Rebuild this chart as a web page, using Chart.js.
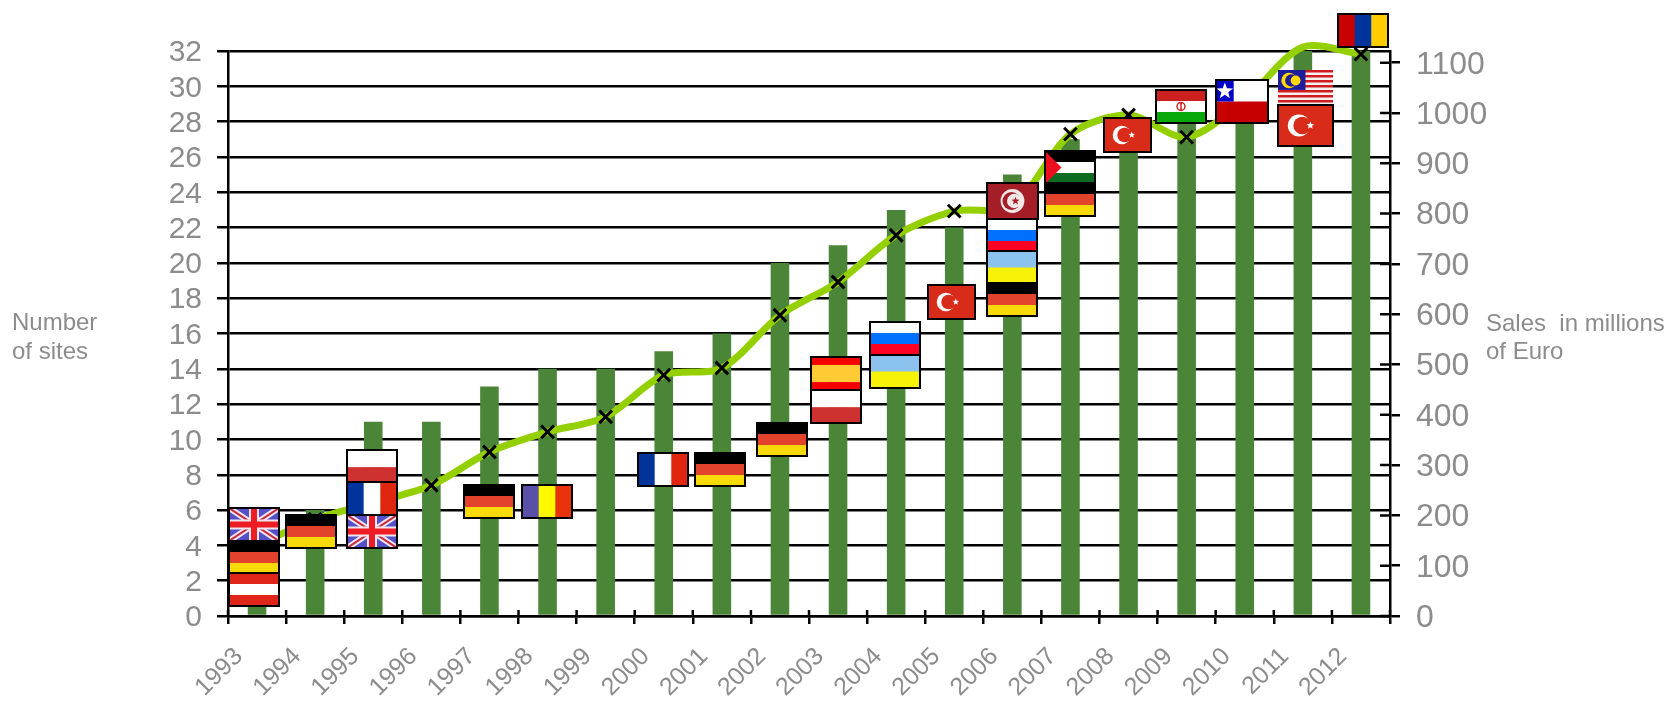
<!DOCTYPE html>
<html>
<head>
<meta charset="utf-8">
<title>Sites and sales</title>
<script src="https://cdn.jsdelivr.net/npm/chart.js@4"></script>
<style>
  html, body { margin: 0; padding: 0; background: #fff; }
  #wrap { width: 1668px; height: 701px; position: relative; }
</style>
</head>
<body>
<div id="wrap"><canvas id="sitesChart"></canvas></div>
<script>
// --- data ---
const years = ['1993','1994','1995','1996','1997','1998','1999','2000','2001','2002','2003','2004','2005','2006','2007','2008','2009','2010','2011','2012'];
const sites = [4,6,11,11,13,14,14,15,16,20,21,23,22,25,27,28,28,30,32,32];
const sales = [141,192,225,260,326,366,396,479,493,598,664,757,805,815,958,996,952,1026,1131,1117];

// flags: code, category position (year index), height on the "Number of sites" axis
const flagCodes = ['UK','DE','AT','DE','PL','FR','UK','DE','RO','FR','DE','DE','ES','PL','RU','UA','TR','TN','RU','UA','DE','PS','DE','TR','IR','CL','MY','TRbig','AM'];
const flagYears = [-0.05,-0.06,-0.06,0.93,1.97,1.97,1.97,4.0,4.99,6.99,7.96,9.03,9.96,9.96,10.98,10.98,11.96,13,13,13,13,14,14,14.98,15.91,16.95,18.04,18.05,19.03];
const flagSites = [5.18,3.34,1.5,4.76,8.49,6.65,4.78,6.48,6.46,8.3,8.3,10.02,13.76,11.86,15.71,13.84,17.78,23.5,21.55,19.73,17.92,25.42,23.58,27.27,28.85,29.13,29.93,27.77,33.18];

const GREY = '#8c8c8c';
const FONT = "'Liberation Sans', Arial, sans-serif";

// --- flag drawing ---
const FLAG_SIZE = { TR: [47, 34], TRbig: [55, 41], TN: [51, 36], CL: [52, 43], MY: [55, 35] };

function hStripes(c, w, h, colors, shares) {
    let y = 0;
    colors.forEach((col, i) => {
        const sh = (shares ? shares[i] : 1 / colors.length) * h;
        c.fillStyle = col;
        c.fillRect(0, y, w, sh + 0.5);
        y += sh;
    });
}

function vStripes(c, w, h, colors) {
    colors.forEach((col, i) => {
        c.fillStyle = col;
        c.fillRect(i * w / colors.length, 0, w / colors.length + 0.5, h);
    });
}

function star(c, x, y, r, col) {
    c.fillStyle = col;
    c.beginPath();
    for (let i = 0; i < 10; i++) {
        const a = -Math.PI / 2 + i * Math.PI / 5;
        const rr = i % 2 ? r * 0.42 : r;
        c.lineTo(x + rr * Math.cos(a), y + rr * Math.sin(a));
    }
    c.closePath();
    c.fill();
}

function crescent(c, x, y, r, col, bg) {
    c.fillStyle = col;
    c.beginPath(); c.arc(x, y, r, 0, Math.PI * 2); c.fill();
    c.fillStyle = bg;
    c.beginPath(); c.arc(x + r * 0.3, y, r * 0.8, 0, Math.PI * 2); c.fill();
}

const flagPainters = {
    DE: (c, w, h) => hStripes(c, w, h, ['#000', '#e3432d', '#f8d90a']),
    AT: (c, w, h) => hStripes(c, w, h, ['#e0261a', '#fff', '#e0261a']),
    PL: (c, w, h) => hStripes(c, w, h, ['#fff', '#cf3030'], [0.52, 0.48]),
    FR: (c, w, h) => vStripes(c, w, h, ['#00349a', '#fff', '#e0260e']),
    RO: (c, w, h) => vStripes(c, w, h, ['#5b50a8', '#fff800', '#e8320c']),
    AM: (c, w, h) => vStripes(c, w, h, ['#c80000', '#00349a', '#ffcc00']),
    ES: (c, w, h) => hStripes(c, w, h, ['#f40000', '#ffca33', '#f40000'], [0.24, 0.52, 0.24]),
    RU: (c, w, h) => hStripes(c, w, h, ['#fff', '#0070ff', '#ff0022']),
    UA: (c, w, h) => hStripes(c, w, h, ['#8cc3ee', '#f7f208']),
    UK: (c, w, h) => {
        c.fillStyle = '#5550c8';
        c.fillRect(0, 0, w, h);
        c.lineCap = 'butt';
        c.strokeStyle = '#f0e6ee'; c.lineWidth = 6;
        c.beginPath(); c.moveTo(0, 0); c.lineTo(w, h); c.moveTo(w, 0); c.lineTo(0, h); c.stroke();
        c.strokeStyle = '#c82a40'; c.lineWidth = 2;
        c.beginPath(); c.moveTo(0, 0); c.lineTo(w, h); c.moveTo(w, 0); c.lineTo(0, h); c.stroke();
        c.fillStyle = '#f0e6ee';
        c.fillRect(w / 2 - 5, 0, 10, h); c.fillRect(0, h / 2 - 5, w, 10);
        c.fillStyle = '#ee1c25';
        c.fillRect(w / 2 - 3, 0, 6, h); c.fillRect(0, h / 2 - 3, w, 6);
    },
    TR: (c, w, h) => {
        c.fillStyle = '#d92b1a';
        c.fillRect(0, 0, w, h);
        crescent(c, w * 0.38, h / 2, h * 0.27, '#fff', '#d92b1a');
        star(c, w * 0.57 + 1, h / 2, h * 0.1, '#fff');
    },
    TN: (c, w, h) => {
        c.fillStyle = '#a51d27';
        c.fillRect(0, 0, w, h);
        c.fillStyle = '#f2e6e6';
        c.beginPath(); c.arc(w / 2, h / 2, h * 0.33, 0, Math.PI * 2); c.fill();
        crescent(c, w / 2 - 1, h / 2, h * 0.25, '#a51d27', '#f2e6e6');
        star(c, w / 2 + 3, h / 2, h * 0.12, '#a51d27');
    },
    PS: (c, w, h) => {
        hStripes(c, w, h, ['#000', '#fff', '#0e6b22']);
        c.fillStyle = '#ee0f1e';
        c.beginPath(); c.moveTo(0, 0); c.lineTo(w * 0.33, h / 2); c.lineTo(0, h); c.fill();
    },
    IR: (c, w, h) => {
        hStripes(c, w, h, ['#cc1f1f', '#fff', '#09a90c']);
        c.strokeStyle = '#d02020'; c.lineWidth = 1.5;
        c.beginPath(); c.arc(w / 2, h / 2, h * 0.12, 0, Math.PI * 2); c.moveTo(w / 2, h * 0.36); c.lineTo(w / 2, h * 0.64); c.stroke();
    },
    CL: (c, w, h) => {
        hStripes(c, w, h, ['#fff', '#c60000']);
        c.fillStyle = '#0000c8';
        c.fillRect(0, 0, w * 0.34, h / 2);
        star(c, w * 0.17, h * 0.26, h * 0.2, '#fff');
    },
    MY: (c, w, h) => {
        const st = [];
        for (let i = 0; i < 14; i++) st.push(i % 2 ? '#f4f0f0' : '#d01c20');
        hStripes(c, w, h, st);
        c.fillStyle = '#1c1c9c';
        c.fillRect(0, 0, w / 2, h * 0.57);
        crescent(c, w * 0.2, h * 0.3, h * 0.22, '#ffd800', '#1c1c9c');
        c.fillStyle = '#ffd800';
        c.beginPath(); c.arc(w * 0.32, h * 0.3, h * 0.14, 0, Math.PI * 2); c.fill();
    }
};
flagPainters.TRbig = flagPainters.TR;

const flagsPlugin = {
    id: 'flags',
    afterDatasetsDraw(chart) {
        const c = chart.ctx, xs = chart.scales.x, ys = chart.scales.y;
        flagCodes.forEach((code, i) => {
            const size = FLAG_SIZE[code] || [50, 33];
            const left = Math.round(xs.getPixelForValue(flagYears[i]) - size[0] / 2);
            const top = Math.round(ys.getPixelForValue(flagSites[i]) - size[1] / 2);
            c.save();
            c.translate(left, top);
            c.beginPath(); c.rect(0, 0, size[0], size[1]); c.clip();
            flagPainters[code](c, size[0], size[1]);
            c.restore();
            if (code !== 'MY') {
                c.strokeStyle = '#000';
                c.lineWidth = 2;
                c.strokeRect(left, top, size[0], size[1]);
            }
        });
    }
};

// ticks crossing the axes and the two side captions
const decorPlugin = {
    id: 'decor',
    beforeDatasetsDraw(chart) {
        const c = chart.ctx, a = chart.chartArea, xs = chart.scales.x, yr = chart.scales.y1;
        c.save();
        c.strokeStyle = '#000';
        c.lineWidth = 2.5;
        c.beginPath();
        yr.ticks.forEach(t => {
            const y = yr.getPixelForValue(t.value);
            c.moveTo(a.right - 10, y); c.lineTo(a.right, y);
        });
        for (let i = 0; i <= years.length; i++) {
            const x = xs.getPixelForValue(i - 0.5);
            c.moveTo(x, a.bottom - 6); c.lineTo(x, a.bottom);
        }
        c.stroke();
        c.fillStyle = GREY;
        c.font = '24px ' + FONT;
        c.textBaseline = 'middle';
        c.textAlign = 'left';
        c.fillText('Number', 12, 323);
        c.fillText('of sites', 12, 352);
        c.fillText('Sales  in millions', 1486, 324);
        c.fillText('of Euro', 1486, 352);
        c.restore();
    }
};

new Chart(document.getElementById('sitesChart').getContext('2d'), {
    type: 'bar',
    data: {
        labels: years,
        datasets: [
            {
                type: 'line',
                label: 'Sales in millions of Euro',
                data: sales,
                yAxisID: 'y1',
                order: 0,
                clip: false,
                borderColor: '#94d000',
                borderWidth: 7,
                tension: 0.3,
                pointStyle: 'crossRot',
                // no marker shows on the 2011 point in the original
                pointRadius: ctx => (years[ctx.dataIndex] === '2011' ? 0 : 9),
                pointBorderColor: '#000',
                pointBorderWidth: 3,
                pointBackgroundColor: '#000'
            },
            {
                label: 'Number of sites',
                data: sites,
                yAxisID: 'y',
                order: 1,
                backgroundColor: '#4a8538',
                categoryPercentage: 1,
                barPercentage: 0.32
            }
        ]
    },
    options: {
        responsive: true,
        maintainAspectRatio: false,
        animation: false,
        layout: { padding: { top: 51, left: 0, right: 0, bottom: 0 } },
        plugins: { legend: { display: false }, title: { display: false }, tooltip: { enabled: false } },
        scales: {
            x: {
                offset: true,
                afterFit: s => { s.height = 85; },
                grid: { offset: true, drawOnChartArea: false, color: '#000', lineWidth: 2.5, tickLength: 8 },
                border: { color: '#000', width: 2.5 },
                ticks: {
                    autoSkip: false, minRotation: 45, maxRotation: 45, labelOffset: -18, padding: 18,
                    color: GREY, font: { family: FONT, size: 25 }
                }
            },
            y: {
                min: 0,
                max: 32,
                afterFit: s => { s.width = 228; },
                grid: { color: '#000', lineWidth: 2.5, tickLength: 11 },
                border: { color: '#000', width: 2.5 },
                ticks: { stepSize: 2, autoSkip: false, padding: 15, labelOffset: 2, color: GREY, font: { family: FONT, size: 30 } }
            },
            y1: {
                position: 'right',
                min: 0,
                max: 1123.3,
                afterFit: s => { s.width = 278; },
                grid: { drawOnChartArea: false, color: '#000', lineWidth: 2.5, tickLength: 10 },
                border: { color: '#000', width: 2.5 },
                ticks: {
                    stepSize: 100, includeBounds: false, padding: 16, labelOffset: 2, color: GREY, font: { family: FONT, size: 32 },
                    callback: v => String(v)
                }
            }
        }
    },
    plugins: [decorPlugin, flagsPlugin]
});
</script>
</body>
</html>
